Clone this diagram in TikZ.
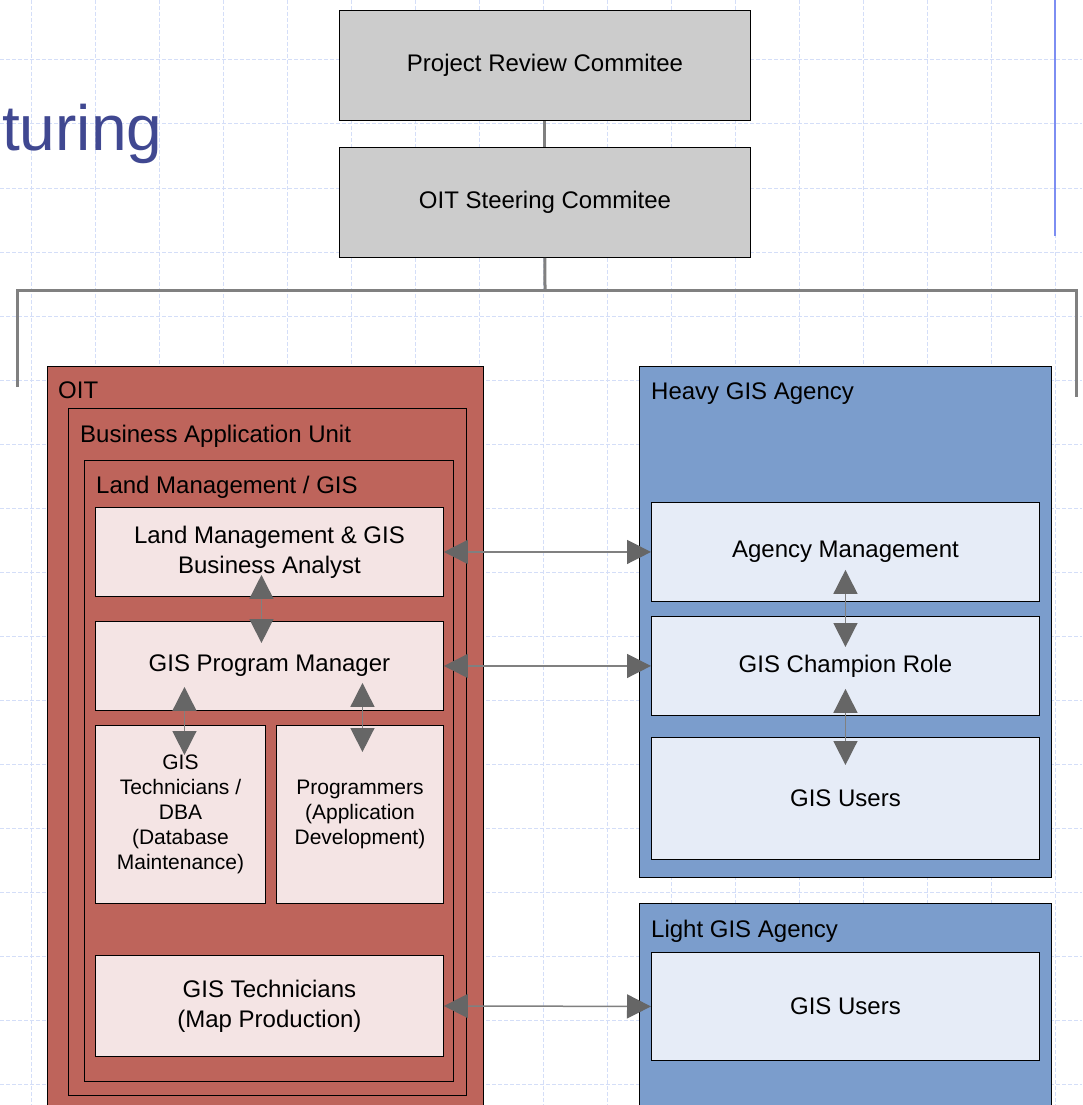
\documentclass[tikz,border=0pt]{standalone}
\usepackage{fontspec}
\setmainfont{Liberation Sans}
\usetikzlibrary{arrows.meta,calc}
\definecolor{gridc}{HTML}{D4DEF8}
\definecolor{titleblue}{HTML}{404891}
\definecolor{vblue}{HTML}{7D8EF2}
\definecolor{conngray}{HTML}{808080}
\definecolor{boxgray}{HTML}{CCCCCC}
\definecolor{oitred}{HTML}{BE645B}
\definecolor{pinkbox}{HTML}{F4E4E4}
\definecolor{agblue}{HTML}{7B9DCC}
\definecolor{lightblue}{HTML}{E6ECF7}
\definecolor{arrowgray}{HTML}{666666}
\newcommand{\fsBig}{\fontsize{24}{30}\selectfont}
\newcommand{\fsSmall}{\fontsize{21}{25}\selectfont}
\begin{document}
\begin{tikzpicture}[x=1pt,y=-1pt,
  gridline/.style={draw=gridc, line width=1pt, dash pattern=on 4pt off 2pt},
  basebox/.style={draw=black, line width=0.9pt, inner sep=0pt, anchor=north west, align=center, font=\fsBig},
  graybox/.style={basebox, fill=boxgray},
  redbox/.style={basebox, fill=oitred},
  pinkrect/.style={basebox, fill=pinkbox},
  bluebox/.style={basebox, fill=agblue},
  lbluebox/.style={basebox, fill=lightblue},
  boxcap/.style={anchor=base west, inner sep=0pt, font=\fsBig},
  conn/.style={draw=conngray, line width=3pt},
  dblarrow/.style={draw=conngray, line width=1.5pt,
    {Triangle[length=24pt,width=24pt,color=arrowgray]}-{Triangle[length=24pt,width=24pt,color=arrowgray]}}
]
\useasboundingbox (0,0) rectangle (1082,1105);
\fill[white] (0,0) rectangle (1082,1105);
% background grid
\foreach \x in {31,95,...,1055} \draw[gridline] (\x,0) -- (\x,1105);
\foreach \y in {60,124,...,1084} \draw[gridline] (0,\y) -- (1082,\y);
% right blue rule
\coordinate (vt) at (1055,0);
\coordinate (vb) at (1055,236);
\draw[vblue, line width=2pt] (vt) -- (vb);
% title fragment
\node[anchor=base west, inner sep=0pt, text=titleblue, font=\fontsize{64}{76}\selectfont] (title) at (2,150) {turing};

% top boxes
\node[graybox, minimum width=411pt, minimum height=110pt] (prc) at (339,10) {Project Review Commitee};
\node[graybox, minimum width=411pt, minimum height=110pt] (osc) at (339,147) {OIT Steering Commitee};

% connectors
\coordinate (bus) at (545,290);
\coordinate (busL) at (17,290);
\coordinate (busR) at (1076,290);
\coordinate (dropL) at (17,387);
\coordinate (dropR) at (1076,397);
\draw[conn] (prc.south) -- (osc.north);
\draw[conn] (osc.south) -- (bus);
\draw[conn] (dropL) -- (busL) -- (busR) -- (dropR);

% OIT side
\node[redbox, minimum width=436pt, minimum height=750pt] (oit) at (47,366) {};
\node[boxcap] (oitl) at (58,398) {OIT};
\node[redbox, minimum width=398pt, minimum height=687pt] (bau) at (68,408) {};
\node[boxcap] (baul) at (80,442) {Business Application Unit};
\node[redbox, minimum width=369pt, minimum height=621pt] (lmg) at (84,460) {};
\node[boxcap] (lmgl) at (96,493) {Land Management / GIS};

\node[pinkrect, minimum width=348pt, minimum height=89pt] (ba) at (95,507) {Land Management \& GIS\\Business Analyst};
\node[pinkrect, minimum width=348pt, minimum height=89pt] (pm) at (95,621) {GIS Program Manager};
\node[pinkrect, minimum width=170pt, minimum height=178pt, font=\fsSmall] (tech) at (95,725) {GIS\\Technicians /\\DBA\\(Database\\Maintenance)};
\node[pinkrect, minimum width=167pt, minimum height=178pt, font=\fsSmall] (prog) at (276,725) {Programmers\\(Application\\Development)};
\node[pinkrect, minimum width=348pt, minimum height=101pt] (map) at (95,955) {GIS Technicians\\(Map Production)};

% Agencies
\node[bluebox, minimum width=412pt, minimum height=511pt] (heavy) at (639,366) {};
\node[boxcap] (heavyl) at (651,399) {Heavy GIS Agency};
\node[lbluebox, minimum width=388pt, minimum height=99pt] (am) at (651,502) {Agency Management};
\node[lbluebox, minimum width=388pt, minimum height=99pt] (champ) at (651,616) {GIS Champion Role};
\node[lbluebox, minimum width=388pt, minimum height=122pt] (husers) at (651,737) {GIS Users};

\node[bluebox, minimum width=412pt, minimum height=220pt] (light) at (639,903) {};
\node[boxcap] (lightl) at (651,937) {Light GIS Agency};
\node[lbluebox, minimum width=388pt, minimum height=108pt] (lusers) at (651,952) {GIS Users};

% arrows
\draw[dblarrow] (ba.east) -- (am.west);
\draw[dblarrow] (pm.east) -- (champ.west);
\draw[dblarrow] (map.east) -- (lusers.west);
\draw[dblarrow] ([xshift=-8pt,yshift=22pt]ba.south) -- ([xshift=-8pt,yshift=-22pt]pm.north);
\draw[dblarrow] ([xshift=-85pt,yshift=24pt]pm.south) -- ([xshift=4pt,yshift=-30pt]tech.north);
\draw[dblarrow] ([xshift=93pt,yshift=28pt]pm.south) -- ([xshift=2.5pt,yshift=-27pt]prog.north);
\draw[dblarrow] ([yshift=32pt]am.south) -- ([yshift=-31pt]champ.north);
\draw[dblarrow] ([yshift=27pt]champ.south) -- ([yshift=-28pt]husers.north);
\end{tikzpicture}
\end{document}
